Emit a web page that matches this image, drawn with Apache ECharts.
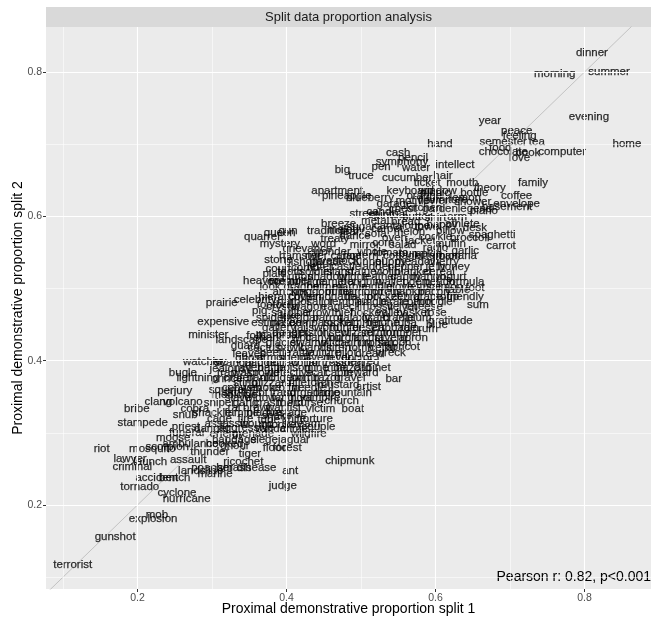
<!DOCTYPE html>
<html><head><meta charset="utf-8">
<script src="https://cdn.jsdelivr.net/npm/echarts@6/dist/echarts.min.js"></script>
<style>html,body{margin:0;padding:0;background:#fff}#c{width:656px;height:619px}</style>
</head><body><div id="c"></div>
<script>
// [word, proportion split 1, proportion split 2]
const topWords = [
["dinner",0.810,0.826],["morning",0.760,0.797],["summer",0.833,0.800],["year",0.673,0.732],["evening",0.806,0.738],
["peace",0.709,0.718],["feeling",0.713,0.711],["semester",0.691,0.703],["tea",0.736,0.703],["food",0.687,0.695],
["chocolate",0.691,0.689],["book",0.724,0.688],["computer",0.770,0.689],["love",0.713,0.681],["home",0.857,0.700],
["hand",0.606,0.700],["cash",0.550,0.688],["pencil",0.570,0.681],["symphony",0.555,0.675],["pen",0.527,0.668],
["big",0.475,0.665],["truce",0.500,0.656],["intellect",0.626,0.672],["water",0.574,0.667],["cucumber",0.562,0.654],
["hair",0.610,0.656],["ticket",0.589,0.647],["mouth",0.636,0.646],["family",0.731,0.647],["keyboard",0.566,0.636],
["window",0.603,0.636],["theory",0.673,0.639],["coffee",0.709,0.629],["apartment",0.468,0.635],["pineapple",0.481,0.628],
["blueberry",0.512,0.625],["motive",0.569,0.621],["flower",0.597,0.621],["furniture",0.615,0.623],["shower",0.650,0.620],
["legend",0.653,0.611],["basement",0.696,0.613],["envelope",0.709,0.617],["chest",0.556,0.611],["garden",0.606,0.611],
["arm",0.629,0.600],["street",0.504,0.603],["spiritual",0.536,0.602]
];
const midWords = [
["happy",0.609,0.588],["athlete",0.636,0.589],["desk",0.653,0.584],["spaghetti",0.676,0.574],["broccoli",0.646,0.570],
["carrot",0.688,0.559],["banana",0.630,0.545],["metal",0.519,0.594],["fear",0.485,0.578],["dance",0.492,0.573],
["corn",0.530,0.563],["treaty",0.465,0.569],["word",0.450,0.562],["whole",0.515,0.551],["grievance",0.428,0.555],
["wonder",0.461,0.551],["hamster",0.418,0.545],["livestock",0.468,0.538],["queen",0.391,0.577],["gun",0.402,0.580],
["quarrel",0.367,0.571],["mystery",0.391,0.562],["stone",0.389,0.540],["court",0.389,0.527],["comb",0.425,0.528],
["heaven",0.367,0.510],["member",0.405,0.510],["look",0.378,0.503],["formula",0.640,0.509],["plaid",0.384,0.520]
];
const lowWords = [
["prairie",0.313,0.480],["celebrity",0.358,0.484],["hierarchy",0.394,0.488],["football",0.385,0.478],["pig",0.364,0.469],
["sardine",0.405,0.467],["lake",0.405,0.462],["expensive",0.315,0.454],["estimate",0.382,0.452],["minister",0.295,0.436],
["folk",0.358,0.434],["mammal",0.389,0.436],["landscape",0.340,0.429],["table",0.630,0.498],["foot",0.653,0.501],
["friendly",0.640,0.488],["sum",0.657,0.477],["gratitude",0.620,0.455],["blue",0.602,0.449],["rum",0.590,0.444],
["apricot",0.556,0.419],["dread",0.512,0.409],["feared",0.503,0.398],["cabinet",0.515,0.390],["bar",0.544,0.375],
["artist",0.510,0.364],["mountain",0.483,0.355],["church",0.474,0.344],["boat",0.489,0.333],["victim",0.446,0.333],
["watcher",0.288,0.398],["bugle",0.261,0.383],["lightning",0.281,0.376],["perjury",0.250,0.358],["squirrel",0.321,0.359],
["clang",0.228,0.343],["volcano",0.261,0.343],["bribe",0.199,0.333],["snub",0.264,0.325],["snake",0.387,0.323],
["stampede",0.207,0.314],["priest",0.265,0.309],["monkey",0.394,0.311],["couple",0.443,0.309],["aggressive",0.346,0.307],
["funeral",0.266,0.300],["moose",0.248,0.293],["ambulance",0.271,0.285],["hooked",0.317,0.285],["riot",0.152,0.278],
["mosquito",0.220,0.278],["thunder",0.297,0.273],["forest",0.401,0.279],["flood",0.385,0.279],["tiger",0.351,0.271],
["lawyer",0.190,0.264],["criminal",0.193,0.253],["assault",0.268,0.262],["chipmunk",0.485,0.261],["ricochet",0.342,0.260],
["disease",0.360,0.251],["ant",0.405,0.248],["marine",0.304,0.243],["accident",0.226,0.237],["judge",0.395,0.226],
["tornado",0.203,0.225],["cyclone",0.253,0.217],["hurricane",0.266,0.208],["mob",0.226,0.186],["explosion",0.221,0.181],
["gunshot",0.170,0.156],["terrorist",0.113,0.117],["launch",0.217,0.260],["cobra",0.277,0.333],["bench",0.250,0.238],
["scorpion",0.240,0.281],["jealousy",0.325,0.389],["prince",0.320,0.375],["medicine",0.330,0.352],["tube",0.376,0.318]
];
// densely overlapping words in the central cloud (estimated)
const cloudUpper = [
["orange",0.585,0.628],["picnic",0.600,0.632],["lemon",0.640,0.626],["bottle",0.652,0.632],["garage",0.545,0.617],
["kitchen",0.585,0.612],["piano",0.665,0.607],["candle",0.530,0.606],["butter",0.575,0.600],["shirt",0.600,0.598],
["bread",0.560,0.592],["towel",0.590,0.585],["carpet",0.535,0.583],["pillow",0.620,0.580],["melon",0.565,0.578],
["cantaloupe",0.555,0.587],["cookie",0.600,0.572],["sofa",0.520,0.576],["oven",0.545,0.570],["jacket",0.580,0.566],
["muffin",0.620,0.562],["salad",0.556,0.560],["radio",0.600,0.557],["garlic",0.640,0.552],["pumpkin",0.580,0.548],
["onion",0.615,0.545],["tomato",0.540,0.550],["mirror",0.505,0.560],["sugar",0.500,0.585],["breeze",0.470,0.590],
["melody",0.480,0.582],["tradition",0.455,0.580]
];
const cloudMiddle = [
["river",0.440,0.545],["canoe",0.480,0.545],["lantern",0.500,0.545],["cottage",0.555,0.545],["kitten",0.590,0.545],
["bishop",0.420,0.537],["parade",0.455,0.537],["tunnel",0.510,0.537],["puppy",0.540,0.537],["meadow",0.575,0.537],["cherry",0.610,0.537],
["letter",0.445,0.530],["castle",0.480,0.530],["ladder",0.520,0.530],["pepper",0.560,0.530],["jelly",0.600,0.530],["honey",0.625,0.530],
["tooth",0.405,0.523],["soldier",0.440,0.523],["island",0.470,0.523],["statue",0.500,0.523],["violin",0.535,0.523],["blanket",0.570,0.523],["cereal",0.605,0.523],
["button",0.415,0.516],["shadow",0.455,0.516],["bridge",0.490,0.516],["feather",0.525,0.516],["candy",0.560,0.516],["mango",0.590,0.516],["yogurt",0.620,0.516],
["ocean",0.395,0.509],["village",0.430,0.509],["camera",0.465,0.509],["penguin",0.500,0.509],["wallet",0.540,0.509],["poem",0.575,0.509],["peach",0.605,0.509],
["dragon",0.420,0.502],["helmet",0.450,0.502],["marble",0.485,0.502],["saddle",0.520,0.502],["glove",0.552,0.502],["lettuce",0.585,0.502],["salmon",0.612,0.502],
["anchor",0.405,0.495],["kingdom",0.435,0.495],["bullet",0.470,0.495],["diamond",0.500,0.495],["circus",0.535,0.495],["napkin",0.565,0.495],["bacon",0.598,0.495],
["cousin",0.425,0.488],["lemonade",0.460,0.488],["tractor",0.500,0.488],["pocket",0.530,0.488],["zebra",0.560,0.488],["grape",0.590,0.488],["soup",0.615,0.488],
["harbor",0.410,0.481],["sailor",0.445,0.481],["temple",0.480,0.481],["jungle",0.515,0.481],["pirate",0.545,0.481],["cotton",0.575,0.481],["noodle",0.600,0.481]
];
const cloudLower = [
["crystal",0.395,0.474],["wagon",0.430,0.474],["eagle",0.465,0.474],["cliff",0.495,0.474],["fossil",0.525,0.474],["velvet",0.555,0.474],["cheese",0.585,0.474],
["arrow",0.440,0.467],["thief",0.475,0.467],["hockey",0.510,0.467],["valley",0.540,0.467],["basket",0.570,0.467],["rose",0.600,0.467],
["spider",0.380,0.460],["beggar",0.420,0.460],["parrot",0.455,0.460],["galaxy",0.490,0.460],["lizard",0.520,0.460],["cradle",0.550,0.460],["plum",0.578,0.460],
["prison",0.400,0.453],["compass",0.435,0.453],["rocket",0.470,0.453],["hammer",0.500,0.453],["throne",0.530,0.453],["tuba",0.560,0.453],["gallery",0.390,0.446],
["jail",0.420,0.446],["sword",0.450,0.446],["hunter",0.480,0.446],["desert",0.510,0.446],["cabbage",0.545,0.446],["rain",0.565,0.446],
["dagger",0.405,0.439],["pistol",0.435,0.439],["insect",0.465,0.439],["wizard",0.495,0.439],["sermon",0.525,0.439],["trumpet",0.555,0.439],
["shark",0.375,0.432],["wolf",0.420,0.432],["canyon",0.450,0.432],["burglar",0.480,0.432],["locust",0.510,0.432],["tavern",0.540,0.432],["apron",0.570,0.432],
["glacier",0.395,0.425],["swamp",0.430,0.425],["witch",0.460,0.425],["cannon",0.490,0.425],["orphan",0.520,0.425],["saloon",0.545,0.425],
["cactus",0.370,0.418],["hawk",0.405,0.418],["bandit",0.440,0.418],["siren",0.470,0.418],["tomb",0.500,0.418],["cellar",0.530,0.418],
["beetle",0.385,0.411],["rattle",0.420,0.411],["vulture",0.450,0.411],["pilot",0.480,0.411],["wreck",0.540,0.411],
["guard",0.345,0.420],["leaves",0.350,0.410],["ivy",0.310,0.398]
];
const cloudBottom = [
["ghost",0.350,0.404],["armor",0.380,0.404],["sheriff",0.410,0.404],["cavern",0.440,0.404],["fever",0.470,0.404],["doctor",0.495,0.404],
["scandal",0.330,0.397],["badge",0.365,0.397],["outlaw",0.395,0.397],["collar",0.425,0.397],["fortress",0.455,0.397],["storm",0.485,0.397],
["raven",0.350,0.390],["battle",0.380,0.390],["poison",0.410,0.390],["mine",0.440,0.390],["tribe",0.465,0.390],["hazard",0.490,0.390],
["trap",0.320,0.383],["wasp",0.345,0.383],["crowd",0.370,0.383],["detective",0.405,0.383],["scar",0.440,0.383],["cabin",0.470,0.383],["reward",0.500,0.383],
["crater",0.335,0.376],["panic",0.365,0.376],["dungeon",0.395,0.376],["bomb",0.425,0.376],["razor",0.455,0.376],["gravel",0.485,0.376],
["sting",0.345,0.369],["blizzard",0.380,0.369],["rifle",0.415,0.369],["torch",0.445,0.369],["mustard",0.470,0.366],
["cobweb",0.340,0.362],["smoke",0.370,0.362],["coffin",0.400,0.362],["needle",0.430,0.362],
["skull",0.330,0.355],["debt",0.360,0.355],["fraud",0.395,0.355],["surgeon",0.425,0.355],["ladle",0.455,0.355],
["slave",0.335,0.348],["widow",0.365,0.348],["fang",0.395,0.348],["hoof",0.420,0.348],["vampire",0.445,0.348],
["sniper",0.310,0.341],["gang",0.345,0.341],["crash",0.375,0.341],["thorn",0.405,0.341],["curse",0.430,0.341],
["rat",0.330,0.335],["brawl",0.360,0.335],["war",0.385,0.335],["fist",0.410,0.335],
["shackle",0.300,0.328],["famine",0.340,0.328],["plague",0.370,0.328],["hostage",0.400,0.328],
["cage",0.310,0.320],["fire",0.345,0.320],["knife",0.410,0.320],["torture",0.440,0.320],
["assassin",0.320,0.313],["wound",0.360,0.313],["scream",0.420,0.313],
["danger",0.300,0.305],["vandal",0.380,0.305],["crime",0.410,0.305],
["enemy",0.320,0.298],["grenade",0.355,0.298],["wildfire",0.430,0.298],
["bandage",0.330,0.290],["siege",0.370,0.290],["jaguar",0.410,0.290],["ghoul",0.330,0.282],
["landslide",0.285,0.247],["poacher",0.300,0.252],["smash",0.330,0.252]
];
const majorTicks = [0.2, 0.4, 0.6, 0.8];
const minorTicks = [0.1, 0.3, 0.5, 0.7];
const xRange = [0.0772, 0.8893];
const yRange = [0.0836, 0.8624];
const diagonal = [[0, 0], [1, 1]];
const panelTitle = "Split data proportion analysis";
const xTitle = "Proximal demonstrative proportion split 1";
const yTitle = "Proximal demonstrative proportion split 2";
const statText = "Pearson r: 0.82, p<0.001";

const allWords = [].concat(cloudUpper, cloudMiddle, cloudLower, cloudBottom, topWords, midWords, lowWords);
const FONT = "'Liberation Sans', Arial, Helvetica, sans-serif";

const chart = echarts.init(document.getElementById('c'), null, {renderer: 'canvas'});
const gridLines = [];
minorTicks.forEach(v => { gridLines.push({xAxis: v, lineStyle: {width: 0.55}}); gridLines.push({yAxis: v, lineStyle: {width: 0.55}}); });
majorTicks.forEach(v => { gridLines.push({xAxis: v, lineStyle: {width: 1.1}}); gridLines.push({yAxis: v, lineStyle: {width: 1.1}}); });

function axisCommon(range, name, gap) {
  return {
    type: 'value', min: range[0], max: range[1],
    splitLine: {show: false},
    axisLine: {show: false},
    axisTick: {show: true, length: 3, lineStyle: {color: '#333333', width: 1}, customValues: majorTicks},
    axisLabel: {color: '#4D4D4D', fontSize: 10.5, fontFamily: FONT, margin: 4, customValues: majorTicks,
      formatter: v => Number(v).toFixed(1)},
    name: name, nameLocation: 'middle', nameGap: gap, nameMoveOverlap: false,
    nameTextStyle: {color: '#000', fontSize: 14, fontFamily: FONT}
  };
}

chart.setOption({
  animation: false,
  grid: {left: 46, right: 5, top: 27, bottom: 30, show: true, backgroundColor: '#EBEBEB', borderWidth: 0,
         outerBoundsMode: 'none', containLabel: false},
  xAxis: axisCommon(xRange, xTitle, 13),
  yAxis: axisCommon(yRange, yTitle, 21),
  graphic: [
    {type: 'rect', left: 46, top: 7, shape: {width: 605, height: 20}, style: {fill: '#D9D9D9'}},
    {type: 'text', x: 348.5, y: 17.5, style: {text: panelTitle, fill: '#1A1A1A', fontSize: 13, fontFamily: FONT,
      textAlign: 'center', textVerticalAlign: 'middle'}},
    {type: 'text', right: 5, top: 570, style: {text: statText, fill: '#000', fontSize: 14, fontFamily: FONT}}
  ],
  series: [
    {type: 'scatter', data: [[0.5, 0.5]], symbolSize: 0, silent: true, z: 1,
     markLine: {silent: true, symbol: ['none', 'none'], label: {show: false}, animation: false,
       lineStyle: {color: '#FFFFFF', type: 'solid'}, emphasis: {disabled: true}, data: gridLines}},
    {type: 'line', data: diagonal, symbol: 'none', silent: true, z: 2, clip: true,
     lineStyle: {color: '#BDBDBD', width: 0.9}},
    {type: 'scatter', z: 3, silent: true, symbolSize: 1,
     itemStyle: {color: 'rgba(0,0,0,0)'},
     data: allWords.map(w => ({name: w[0], value: [w[1], w[2]]})),
     label: {show: true, position: 'inside', formatter: '{b}', color: '#000', fontSize: 11.5, fontFamily: FONT,
       textBorderColor: '#000', textBorderWidth: 0.25},
     labelLayout: {hideOverlap: false},
     emphasis: {disabled: true}}
  ]
});
</script>
</body></html>
